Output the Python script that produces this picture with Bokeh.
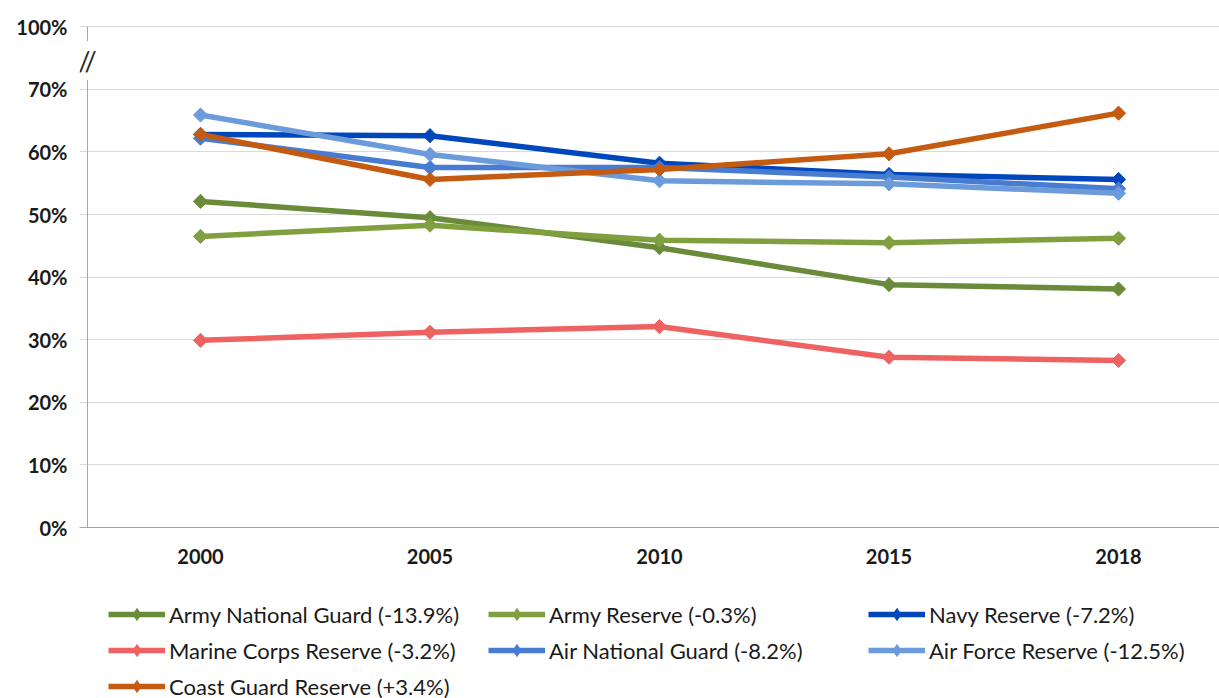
import math
from bokeh.plotting import figure
from bokeh.layouts import column
from bokeh.models import Range1d, FixedTicker, PrintfTickFormatter, Legend, LegendItem, Label
from bokeh.embed import file_html
from bokeh.resources import INLINE

years = ["2000", "2005", "2010", "2015", "2018"]
army_ng = [52.1, 49.5, 44.7, 38.8, 38.1]
army_res = [46.5, 48.3, 45.9, 45.5, 46.2]
navy_res = [62.8, 62.6, 58.2, 56.4, 55.6]
marine_res = [29.9, 31.2, 32.1, 27.2, 26.7]
air_ng = [62.2, 57.5, 57.5, 56.0, 54.1]
af_res = [65.9, 59.6, 55.4, 54.9, 53.4]
cg_res = [62.8, 55.6, 57.2, 59.7, 66.2]

series_names = ["Army National Guard (-13.9%)", "Army Reserve (-0.3%)", "Navy Reserve (-7.2%)",
                "Marine Corps Reserve (-3.2%)", "Air National Guard (-8.2%)", "Air Force Reserve (-12.5%)",
                "Coast Guard Reserve (+3.4%)"]
series_values = [army_ng, army_res, navy_res, marine_res, air_ng, af_res, cg_res]
colors = ["#698B3A", "#80A040", "#0047BB", "#EF6262", "#477CD0", "#6C9BDB", "#C55A11"]

y_ticks = [0, 10, 20, 30, 40, 50, 60, 70, 80]
top_tick_label = "100%"
break_at = 74.6

FONT = "Lato"
AXIS_GREY = "#A6A6A6"
xs = list(range(len(years)))
axis_x = -0.4924
x_lo = -0.5273
x_hi = 4.440

p = figure(width=1219, height=572, output_backend="svg", toolbar_location=None,
           x_range=Range1d(x_lo, x_hi), y_range=Range1d(0, 80.2),
           min_border_left=79, min_border_top=25, min_border_right=0, min_border_bottom=45)
p.outline_line_color = None
p.background_fill_color = "white"

p.xgrid.grid_line_color = None
p.ygrid.grid_line_color = "#D9D9D9"
p.ygrid.ticker = FixedTicker(ticks=y_ticks)

p.yaxis.ticker = FixedTicker(ticks=y_ticks)
p.yaxis.formatter = PrintfTickFormatter(format="%d%%")
p.yaxis.major_label_overrides = {80: top_tick_label}
p.yaxis.axis_line_color = None
p.yaxis.major_tick_line_color = None
p.yaxis.major_tick_out = 0
p.yaxis.major_tick_in = 0
p.yaxis.minor_tick_line_color = None
p.yaxis.major_label_standoff = 12
p.yaxis.major_label_text_font = FONT
p.yaxis.major_label_text_font_style = "bold"
p.yaxis.major_label_text_font_size = "20px"
p.yaxis.major_label_text_color = "#1A1A1A"

p.xaxis.ticker = FixedTicker(ticks=xs)
p.xaxis.major_label_overrides = {i: y for i, y in enumerate(years)}
p.xaxis.axis_line_color = AXIS_GREY
p.xaxis.major_tick_line_color = None
p.xaxis.major_tick_out = 0
p.xaxis.major_tick_in = 0
p.xaxis.minor_tick_line_color = None
p.xaxis.major_label_standoff = 21
p.xaxis.major_label_text_font = FONT
p.xaxis.major_label_text_font_style = "bold"
p.xaxis.major_label_text_font_size = "20px"
p.xaxis.major_label_text_color = "#1A1A1A"

# vertical axis line (with a break mark)
p.segment(x0=[axis_x], y0=[0], x1=[axis_x], y1=[y_ticks[-1]], line_color=AXIS_GREY, line_width=1)

for vals, c in zip(series_values, colors):
    p.line(xs, vals, line_color=c, line_width=5.5)
    p.scatter(xs, vals, marker="square", angle=math.pi / 4, size=10, fill_color=c, line_color=c)

brk = Label(x=axis_x, y=break_at, text="//", text_align="center", text_baseline="middle",
            text_font=FONT, text_font_size="27px", text_color="#262626",
            background_fill_color="white", padding=3)
p.add_layout(brk)

# legend panel (same series, drawn outside this panel's visible range)
p2 = figure(width=1219, height=126, output_backend="svg", toolbar_location=None,
            x_range=Range1d(100, 101), y_range=Range1d(100, 101),
            x_axis_location=None, y_axis_location=None, min_border=0)
p2.outline_line_color = None
p2.grid.visible = False

items = []
for name, vals, c in zip(series_names, series_values, colors):
    l = p2.line(xs, vals, line_color=c, line_width=5.5)
    s = p2.scatter(xs, vals, marker="diamond", size=14, fill_color=c, line_color=c)
    items.append(LegendItem(label=name, renderers=[l, s]))

legend = Legend(items=items, ncols=3, orientation="horizontal", location=(29, -3),
                glyph_width=57, glyph_height=30, label_standoff=4, label_width=313,
                spacing=6, padding=0, margin=0,
                label_text_font=FONT, label_text_font_size="22px", label_text_color="#1A1A1A",
                border_line_color=None, background_fill_alpha=0)
p2.add_layout(legend)

open("out.html", "w").write(file_html(column(p, p2, spacing=0), INLINE))
